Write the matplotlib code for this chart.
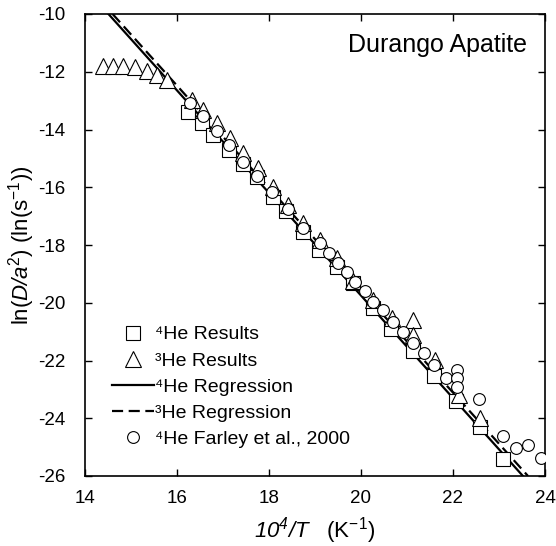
import matplotlib
matplotlib.use('Agg')
import matplotlib.pyplot as plt

plt.rcParams['font.family'] = ['Liberation Sans', 'DejaVu Sans']
plt.rcParams['mathtext.fontset'] = 'custom'
plt.rcParams['mathtext.rm'] = 'Liberation Sans'
plt.rcParams['mathtext.it'] = 'Liberation Sans:italic'
plt.rcParams['mathtext.sf'] = 'Liberation Sans:italic'  # italic incl. digits
plt.rcParams['axes.unicode_minus'] = False

# 4He results (squares)
he4_x = [16.25, 16.54, 16.79, 17.12, 17.43, 17.75, 18.08, 18.38, 18.75, 19.08,
         19.47, 19.83, 20.27, 20.65, 21.14, 21.58, 22.06, 22.58, 23.09]
he4_y = [-13.38, -13.79, -14.19, -14.70, -15.18, -15.66, -16.33, -16.82, -17.54, -18.17,
         -18.75, -19.33, -20.19, -20.90, -21.66, -22.52, -23.40, -24.32, -25.40]

# 3He results (triangles)
he3_x = [14.39, 14.61, 14.83, 15.09, 15.35, 15.57, 15.78, 16.32, 16.57, 16.86,
         17.15, 17.44, 17.77, 18.08, 18.42, 18.75, 19.11, 19.47, 19.83, 20.27,
         20.67, 21.14, 21.14, 21.61, 22.12, 22.59]
he3_y = [-11.80, -11.80, -11.80, -11.85, -11.96, -12.12, -12.30, -12.98, -13.32, -13.79,
         -14.30, -14.82, -15.34, -16.00, -16.61, -17.25, -17.83, -18.46, -19.25, -19.90,
         -20.54, -20.60, -21.12, -21.98, -23.20, -24.00]

# 4He Farley et al., 2000 (circles)
farley_x = [16.28, 16.57, 16.86, 17.14, 17.43, 17.75, 18.06, 18.42, 18.75, 19.11,
            19.30, 19.49, 19.69, 19.88, 20.09, 20.27, 20.48, 20.70, 20.92, 21.13,
            21.37, 21.59, 21.84, 22.08, 22.08, 22.08, 22.57, 23.09, 23.37, 23.64, 23.92]
farley_y = [-13.08, -13.53, -14.05, -14.52, -15.11, -15.61, -16.15, -16.76, -17.42, -17.94,
            -18.29, -18.63, -18.92, -19.27, -19.60, -19.98, -20.26, -20.66, -21.03, -21.40,
            -21.74, -22.17, -22.60, -22.33, -22.62, -22.93, -23.33, -24.61, -25.04, -24.92, -25.37]

# regression lines (end points)
reg4_x = [14.51, 23.52]
reg4_y = [-10.0, -26.0]
reg3_x = [14.60, 23.63]
reg3_y = [-10.0, -26.0]

fig = plt.figure(figsize=(5.56, 5.46), dpi=100)
ax = fig.add_axes([85/556, 1-476/546, 460/556, 462/546])

ax.plot(reg4_x, reg4_y, '-', color='black', lw=1.6, zorder=2, label='⁴He Regression')
ax.plot(reg3_x, reg3_y, '--', color='black', lw=1.6, dashes=(5, 2.5), zorder=2,
        label='³He Regression')
ax.plot(he4_x, he4_y, 's', ms=10.5, mfc='white', mec='black', mew=0.8, ls='none',
        zorder=3, label='⁴He Results')
ax.plot(he3_x, he3_y, '^', ms=11, mfc='white', mec='black', mew=0.8, ls='none',
        zorder=4, label='³He Results')
ax.plot(farley_x, farley_y, 'o', ms=8.5, mfc='white', mec='black', mew=0.8, ls='none',
        zorder=5, label='⁴He Farley et al., 2000')

ax.set_xlim(14, 24)
ax.set_ylim(-26, -10)
ax.set_xticks([14, 16, 18, 20, 22, 24])
ax.set_yticks(range(-26, -9, 2))
ax.tick_params(direction='in', length=5, width=1, top=True, right=True, labelsize=13.5)
ax.tick_params(axis='y', pad=14)
ax.tick_params(axis='x', pad=10)
for s in ax.spines.values():
    s.set_linewidth(1.2)

ax.set_xlabel(r'$\mathsf{10^4/T}$   (K$^{-1}$)', fontsize=16, labelpad=6)
ax.set_ylabel(r'ln($\mathsf{D/a}^2$) (ln(s$^{-1}$))', fontsize=16, labelpad=1)

ax.text(0.961, 0.933, 'Durango Apatite', transform=ax.transAxes, ha='right', va='center',
        fontsize=18)

h, l = ax.get_legend_handles_labels()
order = [2, 3, 0, 1, 4]
ax.legend([h[i] for i in order], [l[i] for i in order], loc='upper left',
          bbox_to_anchor=(0.041, 0.342), frameon=False, fontsize=14,
          handlelength=2.2, handletextpad=0.05, labelspacing=0.44, borderaxespad=0)

fig.savefig('out.png', dpi=100)
